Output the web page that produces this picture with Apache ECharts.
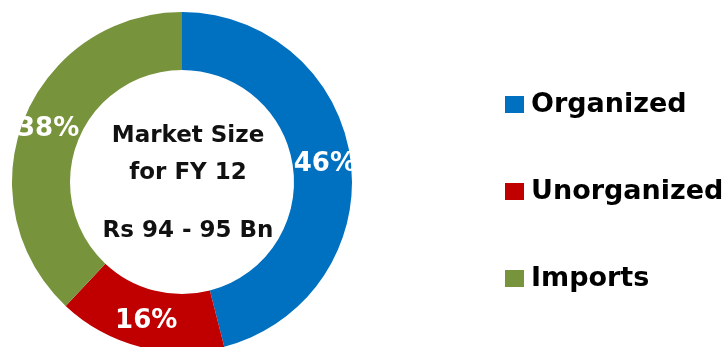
<!DOCTYPE html>
<html>
<head>
<meta charset="utf-8">
<script src="https://cdn.jsdelivr.net/npm/echarts@6/dist/echarts.min.js"></script>
<style>
  html, body { margin: 0; padding: 0; background: #fff; }
  #main { width: 728px; height: 347px; }
</style>
</head>
<body>
<div id="main"></div>
<script>
// chart data
const categories = ["Organized", "Unorganized", "Imports"];
const shares = [46, 16, 38];
const colors = ["#0070C0", "#C00000", "#77933C"];
const centerLines = ["Market Size", "for FY 12", "Rs 94 - 95 Bn"];
const centerLineY = [136, 173, 231];

var myChart = echarts.init(document.querySelector("#main"));
myChart.setOption({
  animation: false,
  color: colors,
  legend: {
    orient: "vertical",
    left: 505,
    top: 91,
    padding: 0,
    itemWidth: 19,
    itemHeight: 17,
    itemGap: 60,
    icon: "rect",
    data: categories,
    textStyle: {
      fontFamily: "DejaVu Sans",
      fontWeight: "bold",
      fontSize: 27,
      color: "#000",
      lineHeight: 27,
      padding: [0, 0, 0, 2],
    },
  },
  // text in the hole of the donut
  graphic: centerLines.map((t, i) => ({
    type: "text",
    x: 188,
    y: centerLineY[i],
    style: {
      text: t,
      align: "center",
      verticalAlign: "middle",
      fontFamily: "DejaVu Sans",
      fontWeight: "bold",
      fontSize: 23,
      fill: "#111",
    },
  })),
  series: [
    {
      type: "pie",
      center: [182, 182],
      radius: [112, 170],
      startAngle: 90,
      clockwise: true,
      silent: true,
      itemStyle: { borderWidth: 0 },
      label: {
        show: true,
        position: "inside",
        formatter: "{c}%",
        fontFamily: "DejaVu Sans",
        fontWeight: "bold",
        fontSize: 26,
        color: "#fff",
      },
      labelLine: { show: false },
      data: categories.map((name, i) => ({ name: name, value: shares[i] })),
    },
  ],
});
</script>
</body>
</html>
